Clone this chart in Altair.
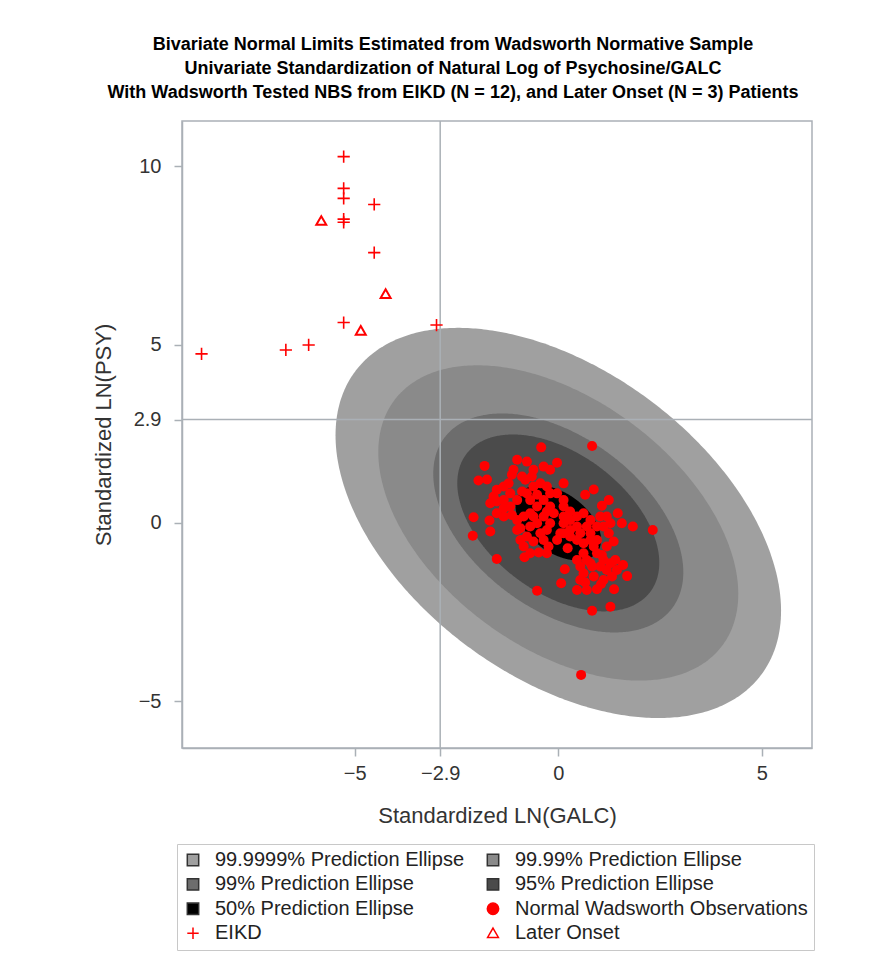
import altair as alt
import numpy as np
import pandas as pd

# ---------------- data ----------------
title_lines = [
    "Bivariate Normal Limits Estimated from Wadsworth Normative Sample",
    "Univariate Standardization of Natural Log of Psychosine/GALC",
    "With Wadsworth Tested NBS from EIKD (N = 12), and Later Onset (N = 3) Patients",
]

# prediction ellipses (centre 0,0, standardized, correlation rho, radius per level)
ellipse_levels = ["99.9999% Prediction Ellipse", "99.99% Prediction Ellipse",
                  "99% Prediction Ellipse", "95% Prediction Ellipse",
                  "50% Prediction Ellipse"]
ellipse_radius = [5.47, 4.42, 3.07, 2.48, 1.05]
ellipse_rho = -0.45
ellipse_colors = ["#a0a0a0", "#8a8a8a", "#6d6d6d", "#4b4b4b", "#000000"]

# EIKD patients (plus signs)
eikd_x = [-5.27, -5.27, -5.27, -4.52, -5.27, -5.27, -4.52, -5.27, -2.99, -6.13, -6.69, -8.76]
eikd_y = [10.27, 9.38, 9.10, 8.93, 8.52, 8.43, 7.58, 5.62, 5.55, 4.99, 4.85, 4.74]

# Later onset patients (triangles)
late_x = [-5.82, -4.24, -4.85]
late_y = [8.47, 6.42, 5.39]

# Normal Wadsworth observations (dots)
obs_x = [-0.42, 0.83, -1.81, -0.03, -1.96, -1.75, -2.08, -2.10, -1.51, -0.83,
         -0.52, 0.07, 0.16, 0.83, 1.28, 1.37, 1.69, 2.32, 1.83, 1.46,
         0.56, -0.48, -0.24, 0.23, -1.67, -1.69, 0.62, 0.87, 0.66, 1.24,
         1.07, 1.56, 1.59, 1.32, 0.46, 0.70, 0.95, 1.05, 0.66, 0.54,
         0.83, 1.11, 1.40, 1.36, 1.24, 0.95, 0.79, 0.46, 0.62, 0.95,
         1.19, 0.29, 0.13, -0.11, 0.13, -0.03, 0.13, -0.20, -0.36, -0.61,
         -0.77, -1.01, -1.10, -1.14, -0.89, -1.34, -1.51, -1.59, -1.67, -1.51,
         -1.34, -1.18, -1.01, -0.77, -0.61, -0.44, -0.69, -0.52, -0.36, -0.20,
         -1.01, -0.85, -0.69, -0.52, -0.36, -0.20, 0.05, -0.03, -1.01, -0.93,
         -0.77, -0.61, -0.44, -0.28, -1.18, -1.34, -0.69, 0.29, 0.46, 0.62,
         0.79, 1.11, 1.28, 0.95, 0.70, 0.46, 1.03, 1.19, 1.44, 0.87,
         1.11, 0.62, 0.13, 0.29, 0.54, 0.79, 1.03, -0.20, 0.13, -0.36,
         -0.28, -0.85, -0.69, -0.89, -0.52, -0.28, -1.14, -1.34, -0.93, -0.61,
         0.13, 0.46, 0.70, 0.87, 1.07, 1.28, 0.79, 0.54, -0.81, -0.65,
         -1.22, -0.28, 0.29, 1.19, -1.51]
obs_y = [2.12, 2.16, 1.60, 1.69, 1.19, 1.22, 0.16, -0.36, -1.01, -0.96,
         -1.90, -1.69, -1.30, -2.46, -2.35, -1.86, -1.49, -0.20, -0.10, 0.27,
         -4.26, -0.83, -0.66, -0.71, -0.24, 0.07, 0.27, 0.94, 0.79, 0.64,
         0.48, -0.01, -1.18, -1.50, -1.88, -1.88, -1.86, -1.71, -1.67, -1.22,
         -1.22, -1.04, -1.04, -0.52, -0.29, -0.10, -0.29, -0.10, -0.85, -0.85,
         -0.66, -0.20, -0.01, 0.27, 0.46, 0.83, 1.11, 1.49, 1.58, 1.49,
         1.72, 1.77, 1.49, 1.35, 1.30, 1.02, 0.93, 0.74, 0.55, 0.27,
         0.18, 0.46, 0.64, 0.83, 1.02, 1.11, 0.64, 0.46, 0.64, 0.83,
         0.08, 0.18, -0.10, -0.01, 0.18, -0.01, -0.29, -0.48, -0.20, -0.48,
         -0.38, -0.52, -0.29, -0.20, 0.83, 0.64, 0.27, -0.38, -0.48, -0.57,
         -0.48, -0.10, -0.01, -0.48, -1.04, -1.04, -1.22, -1.32, -1.32, -1.50,
         -1.60, -1.41, 0.18, 0.08, -0.29, 0.08, 0.18, 0.46, 0.64, -0.48,
         -0.85, -0.66, -0.85, 0.88, 0.79, 1.02, 0.22, 0.41, -0.15, 0.18,
         -0.29, 0.18, -0.10, -0.66, -0.90, -1.13, -1.13, -1.60, 1.21, 1.30,
         1.11, 0.32, 0.32, 0.18, 0.60]

x_ticks = [-5, -2.9, 0, 5]
y_ticks = [-5, 0, 2.9, 5, 10]
x_domain = [-9.24, 6.23]
y_domain = [-6.31, 11.27]
ref_x = [-2.9]
ref_y = [2.9]

legend_entries = ellipse_levels + ["Normal Wadsworth Observations", "EIKD", "Later Onset"]

# ---------------- styling ----------------
FONT = "Liberation Sans"
FRAME = "#aab0b6"
RED = "#ff0000"
PLUS = "M-1,0L1,0M0,-1L0,1"
TRI = "M0,-0.9L0.95,0.75L-0.95,0.75Z"

xs = alt.Scale(domain=x_domain, nice=False, zero=False)
ys = alt.Scale(domain=y_domain, nice=False, zero=False)
x_axis = alt.Axis(values=x_ticks, format=".1~f", title="Standardized LN(GALC)", grid=False,
                  tickSize=8, labelPadding=7, titlePadding=22)
y_axis = alt.Axis(values=y_ticks, format=".1~f", title="Standardized LN(PSY)", grid=False,
                  tickSize=8, labelPadding=13, titlePadding=18)


def X(f):
    return alt.X(f, scale=xs, axis=x_axis, title="Standardized LN(GALC)")


def Y(f):
    return alt.Y(f, scale=ys, axis=y_axis, title="Standardized LN(PSY)")


layers = []
t = np.linspace(0, np.pi, 241)
for lvl, r, col in zip(ellipse_levels, ellipse_radius, ellipse_colors):
    ex = r * np.cos(t)
    half = np.sqrt(1 - ellipse_rho ** 2) * r * np.sin(t)
    df = pd.DataFrame({"x": ex, "lo": ellipse_rho * ex - half, "hi": ellipse_rho * ex + half})
    layers.append(alt.Chart(df).mark_area(color=col, opacity=1, orient="vertical").encode(
        x=X("x:Q"), y=Y("lo:Q"), y2="hi:Q"))

rule_v = alt.Chart(pd.DataFrame({"v": ref_x})).mark_rule(color=FRAME, strokeWidth=1.5).encode(x=X("v:Q"))
rule_h = alt.Chart(pd.DataFrame({"v": ref_y})).mark_rule(color=FRAME, strokeWidth=1.5).encode(y=Y("v:Q"))

obs = alt.Chart(pd.DataFrame({"x": obs_x, "y": obs_y})).mark_point(
    shape="circle", filled=True, color=RED, size=100, opacity=1).encode(x=X("x:Q"), y=Y("y:Q"))
eikd = alt.Chart(pd.DataFrame({"x": eikd_x, "y": eikd_y})).mark_point(
    shape=PLUS, filled=False, color=RED, size=150, strokeWidth=1.6, opacity=1).encode(x=X("x:Q"), y=Y("y:Q"))
late = alt.Chart(pd.DataFrame({"x": late_x, "y": late_y})).mark_point(
    shape=TRI, filled=False, color=RED, size=110, strokeWidth=2, opacity=1).encode(x=X("x:Q"), y=Y("y:Q"))

# legend (dummy layer with no drawable rows)
leg_fill = ellipse_colors + [RED, "transparent", "transparent"]
leg_stroke = ["#333333"] * 5 + [RED, RED, RED]
leg_shape = ["square"] * 5 + ["circle", PLUS, TRI]
leg_df = pd.DataFrame({"entry": legend_entries, "x": [None] * 8, "y": [None] * 8})
legend = alt.Legend(title=None, orient="none", direction="horizontal", legendX=-5, legendY=723,
                    columns=2, columnPadding=18, rowPadding=4.4, labelFontSize=20, labelFont=FONT,
                    labelColor="#222222", symbolSize=130, symbolStrokeWidth=1.5,
                    labelOffset=12, padding=6, strokeColor="#c8c8c8", labelLimit=400)
leg = alt.Chart(leg_df).mark_point(opacity=1).encode(
    x=X("x:Q"), y=Y("y:Q"),
    fill=alt.Fill("entry:N", scale=alt.Scale(domain=legend_entries, range=leg_fill), legend=legend, sort=legend_entries),
    stroke=alt.Stroke("entry:N", scale=alt.Scale(domain=legend_entries, range=leg_stroke), legend=legend, sort=legend_entries),
    shape=alt.Shape("entry:N", scale=alt.Scale(domain=legend_entries, range=leg_shape), legend=legend, sort=legend_entries),
)

chart = alt.layer(*layers, rule_v, rule_h, obs, eikd, late, leg).properties(
    width=630, height=627,
    background="white",
    title=alt.TitleParams(text=title_lines, font=FONT, fontSize=18,
                          fontWeight="bold", lineHeight=24, color="#000000",
                          anchor="middle", dx=-44, offset=18),
    padding={"left": 174, "top": 113, "right": 40, "bottom": 205},
    autosize="none",
).configure_view(stroke=FRAME, strokeWidth=1.5).configure_axis(
    domainColor=FRAME, tickColor=FRAME, domainWidth=1.5, tickWidth=1.5,
    labelFont=FONT, titleFont=FONT, labelFontSize=20, titleFontSize=22,
    labelColor="#333333", titleColor="#333333", titleFontWeight="normal",
)

chart.save("out.html", embed_options={"renderer": "svg", "actions": False})
